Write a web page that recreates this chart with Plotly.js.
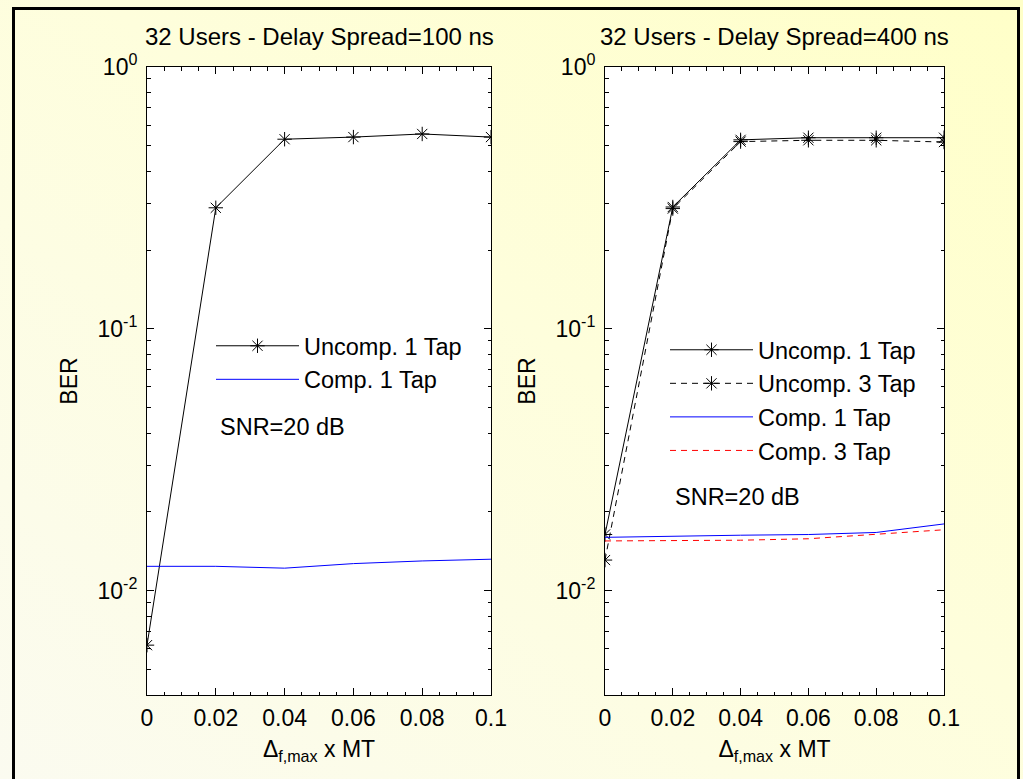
<!DOCTYPE html>
<html>
<head>
<meta charset="utf-8">
<script src="https://cdn.plot.ly/plotly-3.0.1.min.js"></script>
<style>
  html, body { margin: 0; padding: 0; }
  body {
    width: 1023px; height: 779px; overflow: hidden; position: relative;
    background: linear-gradient(to bottom left, #ffffc8 0%, #fefedc 45%, #fbfbf0 100%);
  }
  #frame {
    position: absolute; left: 12px; top: 7px; width: 1008px; height: 800px;
    border: 3px solid #000; box-sizing: border-box;
  }
  #chart { position: absolute; left: 0; top: 0; width: 1023px; height: 779px; }
</style>
</head>
<body>
<div id="frame"></div>
<div id="chart"></div>
<script>
// Normalised Doppler spread (Δf,max · MT)
const X_VALUES = [0, 0.02, 0.04, 0.06, 0.08, 0.1];
const X_TICK_TEXT = ['0', '0.02', '0.04', '0.06', '0.08', '0.1'];

// BER, delay spread 100 ns
const DS100_UNCOMP_1TAP = [0.0062, 0.29, 0.53, 0.54, 0.555, 0.54];
const DS100_COMP_1TAP   = [0.0124, 0.0124, 0.0122, 0.0127, 0.0130, 0.0132];

// BER, delay spread 400 ns
const DS400_UNCOMP_1TAP = [0.0164, 0.292, 0.527, 0.537, 0.537, 0.537];
const DS400_UNCOMP_3TAP = [0.0131, 0.288, 0.519, 0.525, 0.525, 0.517];
const DS400_COMP_1TAP   = [0.0160, 0.0162, 0.0163, 0.0164, 0.0167, 0.0180];
const DS400_COMP_3TAP   = [0.0155, 0.0155, 0.0156, 0.0158, 0.0164, 0.0171];

const Y_TICK_VALUES = [0.01, 0.1, 1];
const Y_TICK_TEXT = ['10<sup>-2</sup>', '10<sup>-1</sup>', '10<sup>0</sup>'];
const Y_MINOR_VALUES = [];
[0.001, 0.01, 0.1].forEach(function (dec) {
  for (let m = 2; m <= 9; m++) Y_MINOR_VALUES.push(m * dec);
});

const FONT = 'Liberation Sans, Arial, sans-serif';
const W = 1023, H = 779;

const star = { symbol: 'asterisk-open', size: 12, color: '#000', line: { width: 1, color: '#000' } };

const traces = [
  { name: 'Uncomp. 1 Tap', x: X_VALUES, y: DS100_UNCOMP_1TAP, xaxis: 'x', yaxis: 'y', legend: 'legend',
    mode: 'lines+markers', line: { color: '#000', width: 1 }, marker: star },
  { name: 'Comp. 1 Tap', x: X_VALUES, y: DS100_COMP_1TAP, xaxis: 'x', yaxis: 'y', legend: 'legend',
    mode: 'lines', line: { color: '#0000ff', width: 1 } },
  { name: 'Uncomp. 1 Tap', x: X_VALUES, y: DS400_UNCOMP_1TAP, xaxis: 'x2', yaxis: 'y2', legend: 'legend2',
    mode: 'lines+markers', line: { color: '#000', width: 1 }, marker: star },
  { name: 'Uncomp. 3 Tap', x: X_VALUES, y: DS400_UNCOMP_3TAP, xaxis: 'x2', yaxis: 'y2', legend: 'legend2',
    mode: 'lines+markers', line: { color: '#000', width: 1, dash: '6px,5px' }, marker: star },
  { name: 'Comp. 1 Tap', x: X_VALUES, y: DS400_COMP_1TAP, xaxis: 'x2', yaxis: 'y2', legend: 'legend2',
    mode: 'lines', line: { color: '#0000ff', width: 1 } },
  { name: 'Comp. 3 Tap', x: X_VALUES, y: DS400_COMP_3TAP, xaxis: 'x2', yaxis: 'y2', legend: 'legend2',
    mode: 'lines', line: { color: '#ff0000', width: 1, dash: '6px,5px' } }
];

function xAxis(left, right, anchor) {
  return {
    domain: [left / W, right / W], anchor: anchor,
    range: [0, 0.1], tickmode: 'array', tickvals: X_VALUES, ticktext: X_TICK_TEXT,
    ticks: 'inside', ticklen: 7, tickwidth: 1, tickcolor: '#000',
    showline: true, linecolor: '#000', linewidth: 1, mirror: 'ticks',
    showgrid: false, zeroline: false, ticklabelstandoff: 2,
    tickfont: { family: FONT, size: 23, color: '#000' },
    minor: { dtick: 0.005, tick0: 0, ticks: 'inside', ticklen: 3.5, tickcolor: '#000', showgrid: false },
    title: { text: 'Δ<sub>f,max</sub> x MT', font: { family: FONT, size: 23, color: '#000' }, standoff: 11 }
  };
}

function yAxis(anchor) {
  return {
    domain: [1 - 695 / H, 1 - 67 / H], anchor: anchor, type: 'log',
    range: [Math.log10(0.004), 0], tickmode: 'array', tickvals: Y_TICK_VALUES, ticktext: Y_TICK_TEXT,
    ticks: 'inside', ticklen: 7, tickwidth: 1, tickcolor: '#000',
    showline: true, linecolor: '#000', linewidth: 1, mirror: 'ticks',
    showgrid: false, zeroline: false, ticklabelstandoff: 4,
    tickfont: { family: FONT, size: 23, color: '#000' },
    minor: { tickmode: 'array', tickvals: Y_MINOR_VALUES, ticks: 'inside', ticklen: 3.5, tickcolor: '#000', showgrid: false },
    title: { text: 'BER', font: { family: FONT, size: 23, color: '#000' }, standoff: 13 }
  };
}

const legendStyle = {
  bgcolor: 'rgba(0,0,0,0)', borderwidth: 0, itemwidth: 83, itemclick: false, itemdoubleclick: false,
  font: { family: FONT, size: 23.5, color: '#000' }, xanchor: 'left', yanchor: 'top'
};

const layout = {
  width: W, height: H,
  margin: { l: 0, r: 0, t: 0, b: 0 },
  paper_bgcolor: 'rgba(0,0,0,0)', plot_bgcolor: '#ffffff',
  font: { family: FONT, color: '#000' },
  showlegend: true,
  xaxis: xAxis(147, 491, 'y'),
  yaxis: yAxis('x'),
  xaxis2: xAxis(605, 944, 'y2'),
  yaxis2: yAxis('x2'),
  legend: Object.assign({ x: 211 / W, y: 1 - 324 / H }, legendStyle),
  legend2: Object.assign({ x: 665 / W, y: 1 - 328 / H }, legendStyle),
  annotations: [
    { text: '32 Users - Delay Spread=100 ns', xref: 'x domain', yref: 'paper', x: 0.5, y: 1 - 37 / H,
      xanchor: 'center', yanchor: 'middle', showarrow: false, font: { family: FONT, size: 24, color: '#000' } },
    { text: '32 Users - Delay Spread=400 ns', xref: 'x2 domain', yref: 'paper', x: 0.5, y: 1 - 37 / H,
      xanchor: 'center', yanchor: 'middle', showarrow: false, font: { family: FONT, size: 24, color: '#000' } },
    { text: 'SNR=20 dB', xref: 'x domain', yref: 'y domain', x: (218 - 147) / 344, y: (695 - 427) / 628,
      xanchor: 'left', yanchor: 'middle', showarrow: false, font: { family: FONT, size: 23.5, color: '#000' } },
    { text: 'SNR=20 dB', xref: 'x2 domain', yref: 'y2 domain', x: (673 - 605) / 339, y: (695 - 497) / 628,
      xanchor: 'left', yanchor: 'middle', showarrow: false, font: { family: FONT, size: 23.5, color: '#000' } }
  ]
};

Plotly.newPlot('chart', traces, layout, { displayModeBar: false, staticPlot: true });
</script>
</body>
</html>
